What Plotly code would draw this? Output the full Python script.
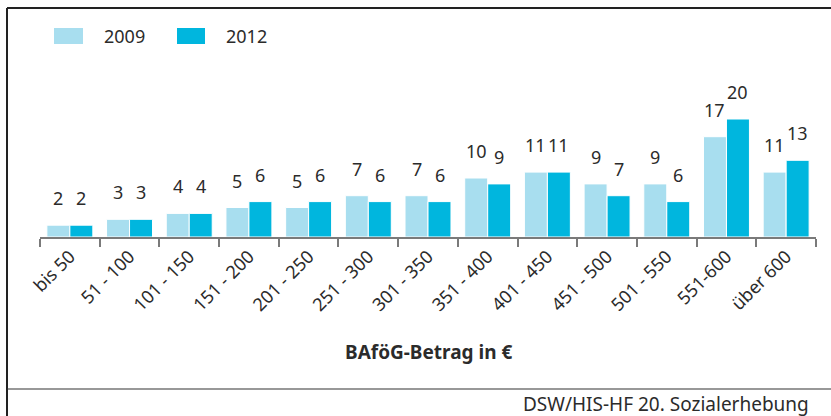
import plotly.graph_objects as go

# BAföG amount bands and share of recipients (%) per survey year
categories = ["bis 50", "51 - 100", "101 - 150", "151 - 200", "201 - 250",
              "251 - 300", "301 - 350", "351 - 400", "401 - 450", "451 - 500",
              "501 - 550", "551-600", "über 600"]
values_2009 = [2, 3, 4, 5, 5, 7, 7, 10, 11, 9, 9, 17, 11]
values_2012 = [2, 3, 4, 6, 6, 6, 6, 9, 11, 7, 6, 20, 13]
series_names = ["2009", "2012"]
source_text = "DSW/HIS-HF 20. Sozialerhebung"
axis_title = "BAföG-Betrag in €"

W, H = 831, 416
ML, MR, MT, MB = 40, 15, 60, 179
PW, PH = W - ML - MR, H - MT - MB

C_LIGHT = "#A8DEEF"
C_DARK = "#00B6DE"
TXT = "#2b2b2b"
FONT = "Noto Sans"


def px_x(x):
    return (x - ML) / PW


def px_y(y):
    return 1 - (y - MT) / PH


fig = go.Figure()
for name, vals, col in [(series_names[0], values_2009, C_LIGHT),
                        (series_names[1], values_2012, C_DARK)]:
    fig.add_trace(go.Bar(
        x=categories, y=vals, name=name, showlegend=False,
        marker=dict(color=col, line=dict(color="white", width=1)),
        hoverinfo="x+y+name",
    ))

# value labels above each bar
annotations = []
for vals, shift in [(values_2009, -11.5), (values_2012, 11.5)]:
    for c, v in zip(categories, vals):
        annotations.append(dict(
            x=c, y=v, xref="x", yref="y", text=str(v), showarrow=False,
            xshift=shift, yshift=27, yanchor="middle",
            font=dict(family=FONT, size=18, color=TXT),
        ))

# legend drawn manually with wide swatches
shapes = []
legend_items = [(54, 83, 102, series_names[0], C_LIGHT),
                (177, 205, 224, series_names[1], C_DARK)]
for x0, x1, tx, label, col in legend_items:
    shapes.append(dict(type="rect", xref="paper", yref="paper",
                       x0=px_x(x0), x1=px_x(x1), y0=px_y(44), y1=px_y(28),
                       fillcolor=col, line=dict(width=0)))
    annotations.append(dict(x=px_x(tx), y=px_y(36), xref="paper", yref="paper",
                            text=label, showarrow=False, xanchor="left",
                            yanchor="middle",
                            font=dict(family=FONT, size=18, color=TXT)))

# frame lines
line_dark = dict(color="#222222", width=2)
shapes.append(dict(type="line", xref="paper", yref="paper",
                   x0=px_x(7), x1=px_x(831), y0=px_y(8), y1=px_y(8), line=line_dark))
shapes.append(dict(type="line", xref="paper", yref="paper",
                   x0=px_x(7), x1=px_x(7), y0=px_y(8), y1=px_y(416), line=line_dark))
shapes.append(dict(type="line", xref="paper", yref="paper",
                   x0=px_x(7), x1=px_x(831), y0=px_y(389), y1=px_y(389),
                   line=dict(color="#333333", width=1.2)))

annotations.append(dict(x=px_x(428), y=px_y(352), xref="paper", yref="paper",
                        text="<b>" + axis_title + "</b>", showarrow=False,
                        xanchor="center", yanchor="middle",
                        font=dict(family=FONT, size=19, color=TXT)))
annotations.append(dict(x=px_x(811), y=px_y(404), xref="paper", yref="paper",
                        text=source_text, showarrow=False,
                        xanchor="right", yanchor="middle",
                        font=dict(family=FONT, size=19, color=TXT)))

fig.update_layout(
    width=W, height=H,
    margin=dict(l=ML, r=MR, t=MT, b=MB, pad=0),
    paper_bgcolor="white", plot_bgcolor="white",
    barmode="group", bargap=0.23, bargroupgap=0,
    shapes=shapes, annotations=annotations,
    xaxis=dict(
        type="category", tickangle=-45, tickson="boundaries",
        ticks="outside", ticklen=8, tickwidth=2, tickcolor="#7a7a7a",
        showline=True, linecolor="#7a7a7a", linewidth=2,
        showgrid=False, zeroline=False,
        tickfont=dict(family=FONT, size=18, color=TXT),
    ),
    yaxis=dict(range=[0, 30], visible=False, showgrid=False, zeroline=False),
)

fig.write_html("out.html")
